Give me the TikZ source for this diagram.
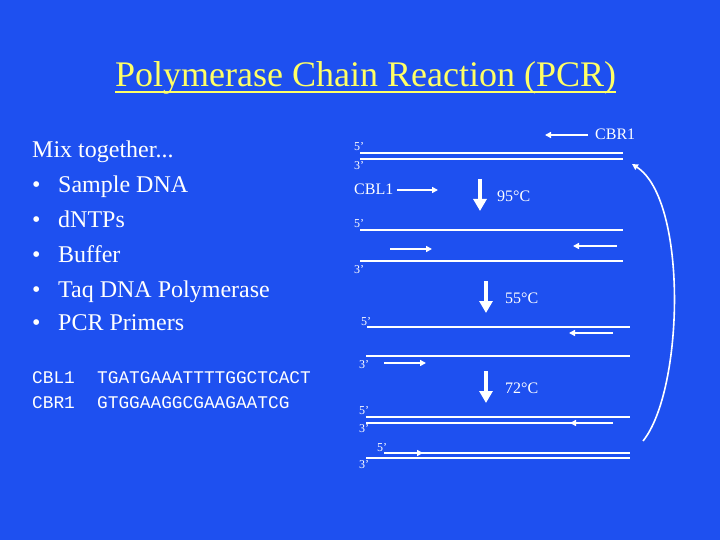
\documentclass[tikz,border=0pt]{standalone}
\usepackage{fontspec}
\setmainfont{Liberation Serif}
\setmonofont{Liberation Mono}
\usetikzlibrary{positioning, arrows.meta}
\definecolor{slideblue}{RGB}{30,80,240}
\definecolor{titleyellow}{RGB}{255,255,102}

\begin{document}
\begin{tikzpicture}[
          x=1pt, y=-1pt,
          txt/.style={text=white, inner sep=0pt, anchor=base west},
          body/.style={txt, font=\fontsize{24}{28}\selectfont},
          label/.style={txt, font=\fontsize{16}{18}\selectfont},
          endmark/.style={txt, font=\fontsize{12}{14}\selectfont},
          seq/.style={txt, font=\ttfamily\fontsize{17.8}{20}\selectfont},
          strand/.style={draw=white, line width=2pt},
          primer/.style={draw=white, line width=1.6pt, -{Triangle[length=6pt, width=6pt]}},
          heat/.style={draw=white, line width=4pt, -{Triangle[length=12pt, width=13pt]}}
      ]
      
      \fill[slideblue] (0,0) rectangle (720,540);
      
      % title
      \node[txt, text=titleyellow, font=\fontsize{36}{40}\selectfont] (title) at (115,87) {Polymerase Chain Reaction (PCR)};
      \draw[titleyellow, line width=2.5pt] ([yshift=-5pt]title.base west) -- ([yshift=-5pt]title.base east);
      
      % ingredients
      \node[body] (mix) at (32,158) {Mix together...};
      \foreach \y/\t [count=\i] in {193/Sample DNA, 228/dNTPs, 262/Buffer, 297/Taq DNA Polymerase, 330/PCR Primers} {
          \node[body] (dot\i) at (32,\y) {•};
          \node[body] (item\i) at (58,\y) {\t};
      }
      
      % primer sequences
      \node[seq] (cblname) at (32,383) {CBL1};
      \node[seq] (cblseq) at (97,383) {TGATGAAATTTTGGCTCACT};
      \node[seq] (cbrname) at (32,408) {CBR1};
      \node[seq] (cbrseq) at (97,408) {GTGGAAGGCGAAGAATCG};
      
      % strands
      \foreach \y/\a/\b in {153/360/623, 159/360/623, 230/360/623, 261/360/623,
                            327/367/630, 356/366/630, 417/366/630, 423/366/613,
                            453/384/630, 458/366/630} {
          \draw[strand] (\a,\y) -- (\b,\y);
      }
      
      % 5'/3' ends
      \foreach \x/\y/\t in {354/151/5’, 354/170/3’, 354/228/5’, 354/273/3’,
                            361/325/5’, 359/368/3’, 359/414/5’, 359/432/3’,
                            377/451/5’, 359/468/3’} {
          \node[endmark] at (\x,\y) {\t};
      }
      
      % primers
      \node[label] (cbr) at (595,140) {CBR1};
      \draw[primer] (588,135) -- (545,135);
      \node[label] (cbl) at (354,195) {CBL1};
      \draw[primer] (397,190) -- (438,190);
      \draw[primer] (390,249) -- (432,249);
      \draw[primer] (617,246) -- (573,246);
      \draw[primer] (613,333) -- (569,333);
      \draw[primer] (384,363) -- (426,363);
      \draw[primer] (613,423) -- (570,423);
      \draw[primer] (384,453) -- (423,453);
      
      % temperature steps
      \draw[heat] (480,179) -- (480,211);
      \node[label] (t95) at (497,202) {95°C};
      \draw[heat] (486,281) -- (486,313);
      \node[label] (t55) at (505,303) {55°C};
      \draw[heat] (486,371) -- (486,403);
      \node[label] (t72) at (505,393) {72°C};
      
      % cycle
      \draw[white, line width=1.6pt, -{Triangle[length=6pt, width=6pt]}]
          (643,441) .. controls (684,390) and (688,200) .. (632,164);
      
      \end{tikzpicture}
\end{document}
